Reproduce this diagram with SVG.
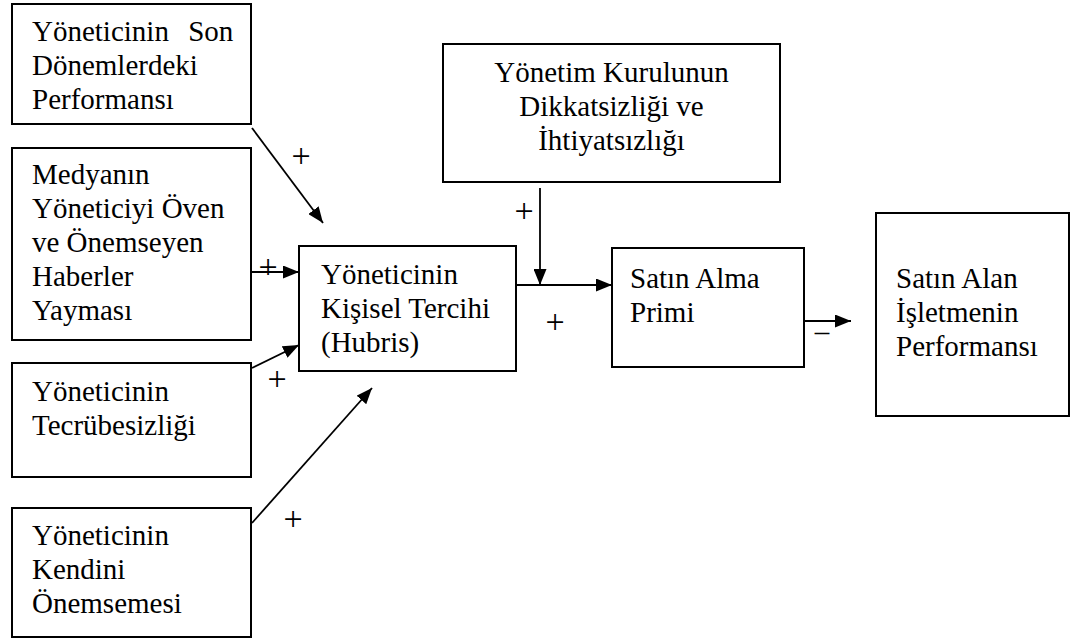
<svg xmlns="http://www.w3.org/2000/svg" width="1075" height="642" viewBox="0 0 1075 642">
<defs>
<marker id="ah" markerUnits="userSpaceOnUse" markerWidth="16" markerHeight="13" refX="16" refY="6.5" orient="auto">
<path d="M0,0 L16,6.5 L0,13 Z" fill="#000"/>
</marker>
<style>
.box{fill:#fff;stroke:#000;stroke-width:2}
.t{font-family:'Liberation Serif',serif;font-size:29px;fill:#000}
.c{text-anchor:middle}
.p{font-size:34px}
.ln{stroke:#000;stroke-width:1.8;fill:none;marker-end:url(#ah)}
</style>
</defs>
<rect width="1075" height="642" fill="#fff"/>
<g id="n-son">
<rect class="box" x="12" y="4" width="239" height="120"/>
<text class="t" x="32" y="41" word-spacing="12">Yöneticinin Son</text>
<text class="t" x="32" y="75">Dönemlerdeki</text>
<text class="t" x="32" y="109">Performansı</text>
</g>
<g id="n-medya">
<rect class="box" x="12" y="148" width="239" height="192"/>
<text class="t" x="32" y="184">Medyanın</text>
<text class="t" x="32" y="218">Yöneticiyi Öven</text>
<text class="t" x="32" y="252">ve Önemseyen</text>
<text class="t" x="32" y="286">Haberler</text>
<text class="t" x="32" y="320">Yayması</text>
</g>
<g id="n-tecrube">
<rect class="box" x="12" y="363" width="239" height="114"/>
<text class="t" x="32" y="401">Yöneticinin</text>
<text class="t" x="32" y="435">Tecrübesizliği</text>
</g>
<g id="n-kendini">
<rect class="box" x="12" y="508" width="239" height="129"/>
<text class="t" x="32" y="545">Yöneticinin</text>
<text class="t" x="32" y="579">Kendini</text>
<text class="t" x="32" y="613">Önemsemesi</text>
</g>
<g id="n-hubris">
<rect class="box" x="299" y="246" width="217" height="125"/>
<text class="t" x="321" y="284">Yöneticinin</text>
<text class="t" x="321" y="318">Kişisel Tercihi</text>
<text class="t" x="321" y="352">(Hubris)</text>
</g>
<g id="n-kurul">
<rect class="box" x="443" y="44" width="337" height="138"/>
<text class="t c" x="611.5" y="82">Yönetim Kurulunun</text>
<text class="t c" x="611.5" y="116">Dikkatsizliği ve</text>
<text class="t c" x="611.5" y="150">İhtiyatsızlığı</text>
</g>
<g id="n-prim">
<rect class="box" x="612" y="248" width="192" height="119"/>
<text class="t" x="630" y="288">Satın Alma</text>
<text class="t" x="630" y="322">Primi</text>
</g>
<g id="n-perf">
<rect class="box" x="876" y="213" width="193" height="203"/>
<text class="t" x="896" y="288">Satın Alan</text>
<text class="t" x="896" y="322">İşletmenin</text>
<text class="t" x="896" y="356">Performansı</text>
</g>
<g id="connectors">
<line class="ln" x1="252" y1="128" x2="323" y2="223"/>
<line class="ln" x1="251" y1="272" x2="299" y2="272"/>
<line class="ln" x1="252" y1="368" x2="299" y2="345"/>
<line class="ln" x1="252" y1="523" x2="372" y2="388"/>
<line class="ln" x1="516" y1="285" x2="612" y2="285"/>
<line class="ln" x1="540" y1="188" x2="540" y2="285"/>
<line class="ln" x1="804" y1="321" x2="851" y2="321"/>
<g class="t c p">
<text x="301" y="167">+</text>
<text x="268" y="278">+</text>
<text x="277" y="390">+</text>
<text x="293" y="530">+</text>
<text x="524" y="222">+</text>
<text x="555" y="333">+</text>
</g>
<text class="t c" x="822" y="341">–</text>
</g>
</svg>
